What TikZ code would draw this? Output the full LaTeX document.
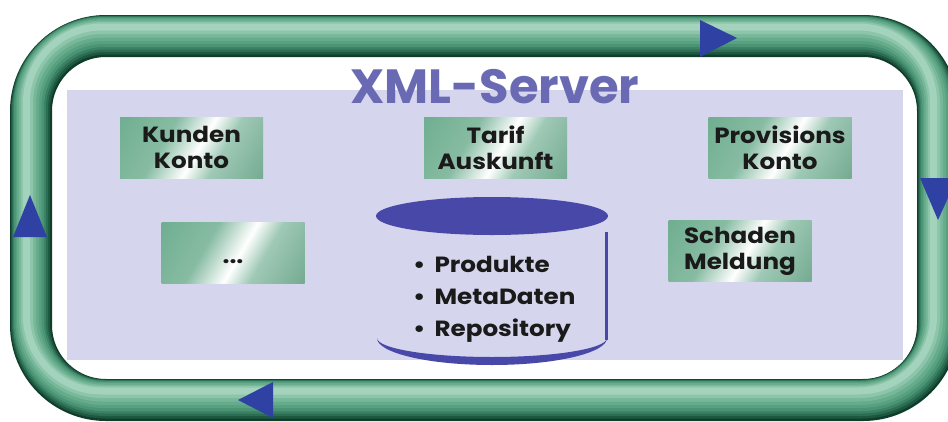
\documentclass[tikz,border=0pt]{standalone}
\usepackage{fontspec}
\setmainfont{Poppins}
\newfontfamily\labelfont{Poppins}[FakeStretch=1.12]

\definecolor{panel}{HTML}{D5D5EE}
\definecolor{arrowblue}{HTML}{2F42A3}
\definecolor{titleblue}{HTML}{6A6AB4}
\definecolor{cylblue}{HTML}{4848A8}
\definecolor{boxg}{HTML}{5FA584}
\definecolor{textdark}{HTML}{1A1A1A}
\definecolor{tube0}{HTML}{0F3D2B}
\definecolor{tube1}{HTML}{1D5740}
\definecolor{tube2}{HTML}{2C6D53}
\definecolor{tube3}{HTML}{3B8265}
\definecolor{tube4}{HTML}{4A9374}
\definecolor{tube5}{HTML}{57A080}
\definecolor{tube6}{HTML}{66AB8B}
\definecolor{tube7}{HTML}{78B89A}
\definecolor{tube8}{HTML}{8DC5AB}
\definecolor{tube9}{HTML}{A3D2BD}

% green box fill: diagonal white highlight across a green ground
\pgfdeclarehorizontalshading{boxshade}{100bp}{%
  color(0bp)=(boxg);
  color(38bp)=(boxg!75!white);
  color(53bp)=(white);
  color(63bp)=(boxg!60!white);
  color(100bp)=(boxg!90!black)}

\tikzset{
  gbox/.style={shade, shading=boxshade, shading angle=-30,
    minimum width=143pt, minimum height=61pt, inner sep=0pt,
    align=center, text=textdark,
    font=\labelfont\fontsize{22}{26}\selectfont\bfseries},
  tipfill/.style={fill=arrowblue},
}

\begin{document}
\begin{tikzpicture}[x=1pt, y=-1pt]
  \useasboundingbox (0,0) rectangle (948,421);
  \fill[white] (0,0) rectangle (948,421);

  % circulation tube, built up from dark to light layers
  \foreach \i/\w in {0/42, 1/39, 2/36, 3/33, 4/30, 5/26, 6/22, 7/17, 8/12, 9/7} {
    \draw[line width=\w pt, draw=tube\i, rounded corners=75pt,
          yshift=1.0*\i pt, xshift=-0.5*\i pt]
      (31,36) rectangle (938,400);
  }

  % direction marks on the tube
  \fill[tipfill] (700,20) -- (737,38) -- (700,57) -- cycle;
  \fill[tipfill] (957,178) -- (938,220) -- (920,178) -- cycle;
  \fill[tipfill] (273,382) -- (238,400) -- (273,418) -- cycle;
  \fill[tipfill] (13,237) -- (30,195) -- (47,237) -- cycle;

  % server panel
  \fill[panel] (67,90) rectangle (903,360);
  \node[anchor=base, text=titleblue, inner sep=0pt,
        font=\fontsize{48}{48}\selectfont\bfseries] (title) at (495,103) {XML-Server};

  % services
  \node[gbox] (kunden) at (191.5,147.5) {Kunden\\Konto};
  \node[gbox] (tarif) at (495.5,147.5) {Tarif\\Auskunft};
  \node[gbox] (provision) at (780,147.5) {Provisions\\Konto};
  \node[gbox, text height=22pt, text depth=0pt] (more) at (233,252.5) {...};
  \node[gbox] (schaden) at (740,251) {Schaden\\Meldung};

  % repository cylinder
  \fill[cylblue] (492,216) ellipse [x radius=116, y radius=19];
  \draw[cylblue, line width=3pt] (606,232) -- (606,340);
  \fill[cylblue] (377,338) arc[start angle=180, end angle=0, x radius=115, y radius=27]
                 arc[start angle=0, end angle=180, x radius=115, y radius=19] -- cycle;
  \node[anchor=base west, align=left, inner sep=0pt, text=textdark,
        font=\labelfont\fontsize{22}{32}\selectfont\bfseries] (repo) at (413,336)
    {\textbullet\hspace{9pt}Produkte\\ \textbullet\hspace{9pt}MetaDaten\\ \textbullet\hspace{9pt}Repository};
\end{tikzpicture}
\end{document}
